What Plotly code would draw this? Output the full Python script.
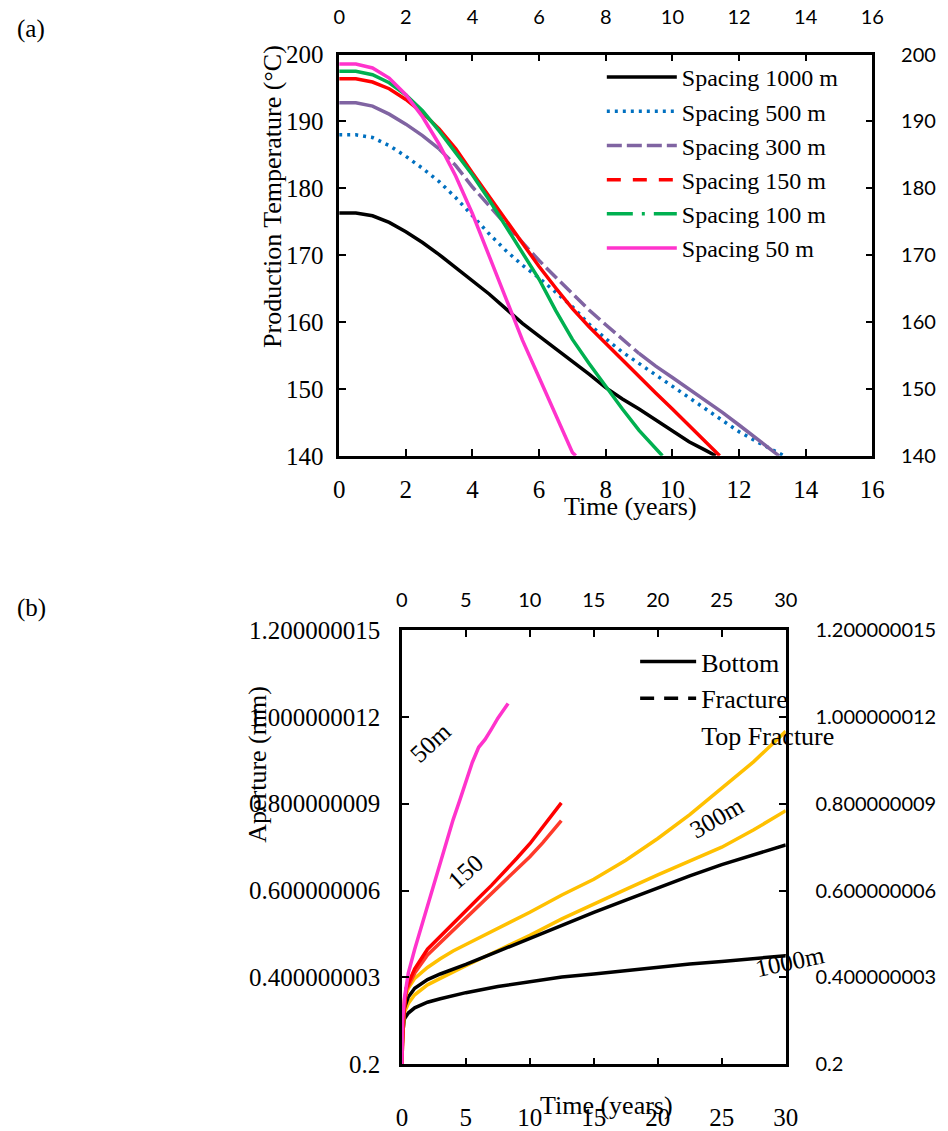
import plotly.graph_objects as go

W, H = 948, 1131
SERIF = "Liberation Serif"
SANS = "Lato"

# ---------------- (a) production temperature ----------------
t_1000 = [0, 0.5, 1, 1.5, 2, 2.5, 3, 3.5, 4, 4.5, 5, 5.5, 6, 6.5, 7, 7.5, 8, 8.5, 9, 9.5, 10, 10.5, 11, 11.3]
T_1000 = [176.3, 176.3, 175.9, 174.9, 173.5, 171.9, 170.1, 168.1, 166.2, 164.2, 162.0, 159.8, 157.9, 156.0, 154.2, 152.2, 150.2, 148.5, 147.0, 145.4, 143.7, 142.1, 140.8, 140.0]

t_500 = [0, 0.5, 1, 1.5, 2, 2.5, 3, 3.5, 4, 4.5, 5, 5.5, 6, 6.5, 7, 7.5, 8, 8.5, 9, 9.5, 10, 10.5, 11, 11.5, 12, 12.5, 13, 13.35]
T_500 = [188.0, 188.0, 187.6, 186.4, 184.8, 183.0, 181.0, 178.6, 175.9, 173.2, 170.7, 168.5, 166.6, 164.5, 162.3, 159.7, 157.5, 155.5, 153.8, 152.2, 150.5, 148.8, 147.0, 145.3, 143.6, 142.2, 140.9, 140.0]

t_300 = [0, 0.5, 1, 1.5, 2, 2.5, 3, 3.5, 4, 4.5, 5, 5.5, 6, 6.5, 7, 7.5, 8, 8.5, 9, 9.5, 10, 10.5, 11, 11.5, 12, 12.5, 13, 13.2]
T_300 = [192.8, 192.8, 192.3, 191.1, 189.6, 187.9, 185.9, 183.4, 180.2, 177.3, 174.6, 171.9, 169.2, 166.7, 164.2, 161.8, 159.6, 157.4, 155.3, 153.4, 151.7, 150.0, 148.3, 146.5, 144.6, 142.7, 140.7, 140.0]

t_150 = [0, 0.5, 1, 1.5, 2, 2.5, 3, 3.5, 4, 4.5, 5, 5.5, 6, 6.5, 7, 7.5, 8, 8.5, 9, 9.5, 10, 10.5, 11, 11.42]
T_150 = [196.4, 196.4, 195.9, 194.9, 193.3, 191.3, 188.9, 185.9, 182.3, 178.8, 175.3, 171.7, 168.3, 165.1, 162.0, 159.3, 156.8, 154.3, 151.8, 149.4, 147.0, 144.5, 142.1, 140.0]

t_100 = [0, 0.5, 1, 1.5, 2, 2.5, 3, 3.5, 4, 4.5, 5, 5.5, 6, 6.5, 7, 7.5, 8, 8.5, 9, 9.5, 9.7]
T_100 = [197.5, 197.5, 197.0, 195.8, 194.0, 191.6, 188.6, 185.3, 182.0, 178.3, 174.3, 170.4, 166.4, 161.7, 157.4, 153.8, 150.3, 147.0, 143.8, 141.0, 140.0]

t_50 = [0, 0.5, 1, 1.5, 2, 2.5, 3, 3.5, 4, 4.5, 5, 5.5, 6, 6.5, 7, 7.1]
T_50 = [198.6, 198.6, 198.0, 196.5, 194.0, 190.7, 186.6, 181.8, 176.2, 170.0, 163.6, 157.3, 151.7, 146.0, 140.5, 140.0]

a_names = ["Spacing 1000 m", "Spacing 500 m", "Spacing 300 m", "Spacing 150 m", "Spacing 100 m", "Spacing 50 m"]
a_x_ticks = [0, 2, 4, 6, 8, 10, 12, 14, 16]
a_y_ticks = [140, 150, 160, 170, 180, 190, 200]

# ---------------- (b) aperture ----------------
b_t_1000_bot = [0, 0.05, 0.2, 0.5, 1, 2, 3, 4, 5, 7.5, 10, 12.5, 15, 17.5, 20, 22.5, 25, 27.5, 30]
b_a_1000_bot = [0.2, 0.27, 0.305, 0.318, 0.33, 0.343, 0.351, 0.359, 0.365, 0.379, 0.39, 0.401, 0.408, 0.416, 0.424, 0.431, 0.437, 0.444, 0.450]

b_t_1000_top = [0, 0.05, 0.2, 0.5, 1, 2, 3, 4, 5, 7.5, 10, 12.5, 15, 17.5, 20, 22.5, 25, 27.5, 30]
b_a_1000_top = [0.2, 0.28, 0.33, 0.355, 0.375, 0.395, 0.408, 0.419, 0.43, 0.46, 0.49, 0.522, 0.55, 0.578, 0.607, 0.634, 0.66, 0.683, 0.705]

b_t_300_bot = [0, 0.05, 0.2, 0.5, 1, 2, 3, 4, 5, 7.5, 10, 12.5, 15, 17.5, 20, 22.5, 25, 27.5, 30]
b_a_300_bot = [0.2, 0.26, 0.32, 0.34, 0.36, 0.383, 0.398, 0.413, 0.427, 0.462, 0.497, 0.535, 0.57, 0.603, 0.636, 0.667, 0.700, 0.740, 0.784]

b_t_300_top = [0, 0.05, 0.2, 0.5, 1, 2, 3, 4, 5, 7.5, 10, 12.5, 15, 17.5, 20, 22.5, 25, 27.5, 30]
b_a_300_top = [0.2, 0.29, 0.35, 0.375, 0.398, 0.423, 0.443, 0.461, 0.476, 0.512, 0.55, 0.59, 0.626, 0.67, 0.72, 0.775, 0.835, 0.897, 0.967]

b_t_150_top = [0, 0.1, 0.33, 1, 2, 3, 4, 5, 6, 7, 8, 9, 10, 11, 12, 12.46]
b_a_150_top = [0.2, 0.3, 0.375, 0.42, 0.465, 0.495, 0.525, 0.553, 0.583, 0.612, 0.643, 0.675, 0.708, 0.745, 0.783, 0.802]

b_t_150_bot = [0, 0.1, 0.33, 1, 2, 3, 4, 5, 6, 7, 8, 9, 10, 11, 12, 12.46]
b_a_150_bot = [0.2, 0.3, 0.37, 0.41, 0.452, 0.48, 0.51, 0.538, 0.566, 0.592, 0.62, 0.648, 0.678, 0.71, 0.743, 0.761]

b_t_50 = [0, 0.05, 0.2, 0.5, 1, 1.5, 2, 2.5, 3, 3.5, 4, 4.5, 5, 5.5, 6, 6.5, 7, 7.5, 8, 8.3]
b_a_50 = [0.2, 0.3, 0.353, 0.41, 0.465, 0.515, 0.568, 0.618, 0.668, 0.718, 0.763, 0.806, 0.85, 0.895, 0.93, 0.948, 0.972, 0.997, 1.018, 1.031]

b_x_ticks = [0, 5, 10, 15, 20, 25, 30]
b_y_ticks = [0.2, 0.4, 0.6, 0.8, 1.0, 1.2]
b_y_ticktext = ["0.2", "0.400000003", "0.600000006", "0.800000009", "1.000000012", "1.200000015"]
b_legend_names = ["Bottom", "Fracture", "Top Fracture"]
b_labels = ["50m", "150", "300m", "1000m"]
b_label_x = [2.24, 4.98, 24.6, 29.9]
b_label_y = [0.941, 0.643, 0.769, 0.436]
b_label_angle = [-43, -42, -30, -12]
b_label_xshift = [0, 0, 0, 6]


def px_x(p):
    return p / W


def px_y(p):
    return 1 - p / H


fig = go.Figure()

LW = 3.5
# visible curves (a)
fig.add_trace(go.Scatter(x=t_1000, y=T_1000, mode="lines", line=dict(color="#000000", width=LW), showlegend=False))
fig.add_trace(go.Scatter(x=t_500, y=T_500, mode="lines", line=dict(color="#0070C0", width=LW, dash="3px,5px"), showlegend=False))
# purple: solid, dashed in the middle stretch, solid again
i3 = t_300.index(3)
i9 = t_300.index(9)
fig.add_trace(go.Scatter(x=t_300[:i3 + 1], y=T_300[:i3 + 1], mode="lines", line=dict(color="#8064A2", width=LW), showlegend=False))
fig.add_trace(go.Scatter(x=t_300[i3:i9 + 1], y=T_300[i3:i9 + 1], mode="lines", line=dict(color="#8064A2", width=LW, dash="15px,5px"), showlegend=False))
fig.add_trace(go.Scatter(x=t_300[i9:], y=T_300[i9:], mode="lines", line=dict(color="#8064A2", width=LW), showlegend=False))
fig.add_trace(go.Scatter(x=t_150, y=T_150, mode="lines", line=dict(color="#FF0000", width=LW), showlegend=False))
fig.add_trace(go.Scatter(x=t_100, y=T_100, mode="lines", line=dict(color="#00B050", width=LW), showlegend=False))
fig.add_trace(go.Scatter(x=t_50, y=T_50, mode="lines", line=dict(color="#FF33CC", width=LW), showlegend=False))

# empty traces so the mirrored (top / right) axes of panel (a) get drawn
fig.add_trace(go.Scatter(x=[None], y=[None], xaxis="x2", yaxis="y", showlegend=False, hoverinfo="skip"))
fig.add_trace(go.Scatter(x=[None], y=[None], xaxis="x", yaxis="y2", showlegend=False, hoverinfo="skip"))

# legend entries (a)
leg_styles = [("#000000", "solid"), ("#0070C0", "3px,5px"), ("#8064A2", "15px,5px"),
              ("#FF0000", "14px,12px"), ("#00B050", "26px,9px,3px,9px"), ("#FF33CC", "solid")]
for name, (c, d) in zip(a_names, leg_styles):
    fig.add_trace(go.Scatter(x=[None], y=[None], mode="lines", name=name,
                             line=dict(color=c, width=LW, dash=d), legend="legend"))

# curves (b)
BW = 3.5
fig.add_trace(go.Scatter(x=b_t_1000_bot, y=b_a_1000_bot, mode="lines", line=dict(color="#000000", width=BW), xaxis="x3", yaxis="y3", showlegend=False))
fig.add_trace(go.Scatter(x=b_t_300_bot, y=b_a_300_bot, mode="lines", line=dict(color="#FFC000", width=BW), xaxis="x3", yaxis="y3", showlegend=False))
fig.add_trace(go.Scatter(x=b_t_1000_top, y=b_a_1000_top, mode="lines", line=dict(color="#000000", width=BW), xaxis="x3", yaxis="y3", showlegend=False))
fig.add_trace(go.Scatter(x=b_t_300_top, y=b_a_300_top, mode="lines", line=dict(color="#FFC000", width=BW), xaxis="x3", yaxis="y3", showlegend=False))
fig.add_trace(go.Scatter(x=b_t_150_bot, y=b_a_150_bot, mode="lines", line=dict(color="#FF3A2A", width=BW), xaxis="x3", yaxis="y3", showlegend=False))
fig.add_trace(go.Scatter(x=b_t_150_top, y=b_a_150_top, mode="lines", line=dict(color="#FF0000", width=BW), xaxis="x3", yaxis="y3", showlegend=False))
fig.add_trace(go.Scatter(x=b_t_50, y=b_a_50, mode="lines", line=dict(color="#FF33CC", width=BW), xaxis="x3", yaxis="y3", showlegend=False))

# empty traces so the mirrored (top / right) axes of panel (b) get drawn
fig.add_trace(go.Scatter(x=[None], y=[None], xaxis="x4", yaxis="y3", showlegend=False, hoverinfo="skip"))
fig.add_trace(go.Scatter(x=[None], y=[None], xaxis="x3", yaxis="y4", showlegend=False, hoverinfo="skip"))

# legend entries (b)
b_leg_styles = [("#000000", "solid", BW), ("#000000", "14px,10px", BW), ("rgba(0,0,0,0)", "solid", BW)]
for name, (c, d, w) in zip(b_legend_names, b_leg_styles):
    fig.add_trace(go.Scatter(x=[None], y=[None], mode="lines", name=name, xaxis="x3", yaxis="y3",
                             line=dict(color=c, width=w, dash=d), legend="legend2"))

axis_common = dict(showgrid=False, zeroline=False, showline=True, linecolor="black", linewidth=2.5,
                   ticks="inside", ticklen=7, tickwidth=2, tickcolor="black")

a_dom_x = [px_x(340), px_x(884)]
a_dom_y = [px_y(454), px_y(42.7)]
b_dom_x = [px_x(404), px_x(795.7)]
b_dom_y = [px_y(1078), px_y(632.7)]

serif_tick = dict(family=SERIF, size=25, color="black")
sans_tick = dict(family=SANS, size=20, color="black")

fig.update_layout(
    width=W, height=H, margin=dict(l=0, r=0, t=0, b=0),
    paper_bgcolor="white", plot_bgcolor="white",
    showlegend=True,
    xaxis=dict(domain=a_dom_x, anchor="y", range=[0, 16], tickvals=a_x_ticks, tickfont=serif_tick,
               ticklabelstandoff=9, **axis_common),
    xaxis2=dict(overlaying="x", anchor="y", side="top", range=[0, 16], tickvals=a_x_ticks, tickfont=sans_tick,
                ticklabelstandoff=20, **axis_common),
    yaxis=dict(domain=a_dom_y, anchor="x", range=[140, 200], tickvals=a_y_ticks, tickfont=serif_tick,
               ticklabelstandoff=8, **axis_common),
    yaxis2=dict(overlaying="y", anchor="x", side="right", range=[140, 200], tickvals=a_y_ticks, tickfont=sans_tick,
                ticklabelstandoff=22, **axis_common),
    xaxis3=dict(domain=b_dom_x, anchor="y3", range=[0, 30], tickvals=b_x_ticks, tickfont=serif_tick,
                ticklabelstandoff=29, **axis_common),
    xaxis4=dict(overlaying="x3", anchor="y3", side="top", range=[0, 30], tickvals=b_x_ticks, tickfont=sans_tick,
                ticklabelstandoff=12, **axis_common),
    yaxis3=dict(domain=b_dom_y, anchor="x3", range=[0.2, 1.2], tickvals=b_y_ticks, ticktext=b_y_ticktext,
                tickfont=serif_tick, ticklabelstandoff=14, **axis_common),
    yaxis4=dict(overlaying="y3", anchor="x3", side="right", range=[0.2, 1.2], tickvals=b_y_ticks, ticktext=b_y_ticktext,
                tickfont=sans_tick, ticklabelstandoff=23, **axis_common),
    legend=dict(x=px_x(608), y=px_y(43), xanchor="left", yanchor="top", bgcolor="rgba(0,0,0,0)",
                font=dict(family=SERIF, size=24, color="black"), tracegroupgap=0, itemwidth=70),
    legend2=dict(x=px_x(642), y=px_y(641), xanchor="left", yanchor="top", bgcolor="rgba(0,0,0,0)",
                 font=dict(family=SERIF, size=26, color="black"), tracegroupgap=0, itemwidth=56),
)

anns = [
    dict(text="(a)", x=px_x(9), y=px_y(16), xanchor="left", yanchor="middle", font=dict(size=25)),
    dict(text="(b)", x=px_x(9), y=px_y(610), xanchor="left", yanchor="middle", font=dict(size=25)),
    dict(text="Production Temperature (°C)", x=px_x(272), y=px_y(188), textangle=-90, font=dict(size=26)),
    dict(text="Time (years)", x=px_x(637), y=px_y(506), font=dict(size=26)),
    dict(text="Aperture (mm)", x=px_x(257), y=px_y(770), textangle=-90, font=dict(size=26)),
    dict(text="Time (years)", x=px_x(613), y=px_y(1120), font=dict(size=26)),
]
for a in anns:
    a.setdefault("xanchor", "center")
    a.setdefault("yanchor", "middle")
    a["font"] = dict(family=SERIF, color="black", **a["font"])
    fig.add_annotation(xref="paper", yref="paper", showarrow=False, **a)

for txt, lx, ly, ang, xs in zip(b_labels, b_label_x, b_label_y, b_label_angle, b_label_xshift):
    fig.add_annotation(xref="x3", yref="y3", x=lx, y=ly, text=txt, textangle=ang, showarrow=False, xshift=xs,
                       font=dict(family=SERIF, size=25, color="black"))

fig.write_html("out.html")
